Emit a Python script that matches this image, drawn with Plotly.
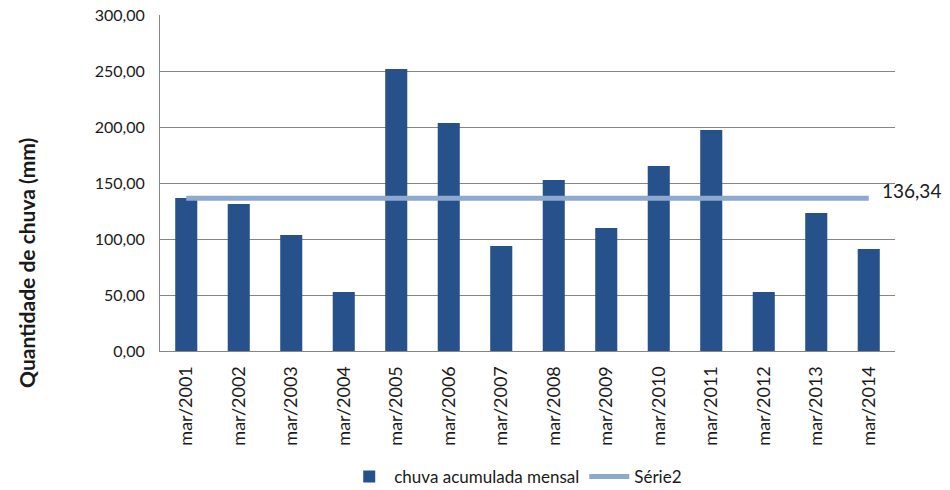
import plotly.graph_objects as go

categories = ["mar/2001", "mar/2002", "mar/2003", "mar/2004", "mar/2005", "mar/2006", "mar/2007",
              "mar/2008", "mar/2009", "mar/2010", "mar/2011", "mar/2012", "mar/2013", "mar/2014"]
chuva = [136.6, 131.3, 103.6, 52.7, 251.8, 203.6, 93.8, 152.7, 109.8, 165.2, 197.3, 52.7, 123.2, 91.1]
media_valor = 136.34
media = [media_valor] * len(categories)
media_rotulo = "136,34"
tick_vals = [0, 50, 100, 150, 200, 250, 300]
tick_text = ["0,00", "50,00", "100,00", "150,00", "200,00", "250,00", "300,00"]
titulo_y = "Quantidade de chuva (mm)"

FONT = "Lato, Open Sans, sans-serif"

fig = go.Figure()
fig.add_trace(go.Bar(
    x=categories, y=chuva, name="chuva acumulada mensal",
    marker=dict(color="#26518A", line=dict(width=0)),
))
fig.add_trace(go.Scatter(
    x=categories, y=media, name="Série2", mode="lines",
    line=dict(color="#8EA9D0", width=5),
))
fig.add_annotation(
    x=categories[-1], y=media_valor, text=media_rotulo, showarrow=False,
    xanchor="left", yanchor="middle", xshift=11, yshift=8,
    font=dict(size=19, color="#1a1a1a", family=FONT),
)
fig.add_annotation(
    xref="paper", yref="paper", x=-0.181, y=0.262, text="<b>" + titulo_y + "</b>",
    showarrow=False, textangle=-90, xanchor="center", yanchor="middle",
    font=dict(size=21, color="#1a1a1a", family=FONT),
)

fig.update_layout(
    width=950, height=490,
    margin=dict(l=160, r=55, t=15, b=139),
    plot_bgcolor="white", paper_bgcolor="white",
    bargap=0.58,
    font=dict(family=FONT, size=16, color="#1a1a1a"),
    showlegend=True,
    legend=dict(orientation="h", x=0.484, xanchor="center", xref="paper",
                yref="container", y=13 / 490, yanchor="middle",
                font=dict(size=17), traceorder="normal", itemwidth=40),
    xaxis=dict(
        tickangle=-90, showgrid=False, showline=True, linecolor="#868686", linewidth=1,
        tickfont=dict(size=18), ticks="outside", ticklen=7, tickcolor="rgba(0,0,0,0)",
        range=[-0.5, len(categories) - 0.5], automargin=False,
    ),
    yaxis=dict(
        range=[0, 300], tickvals=tick_vals, ticktext=tick_text,
        showgrid=True, gridcolor="#868686", gridwidth=1,
        showline=True, linecolor="#868686", linewidth=1,
        tickfont=dict(size=16), ticks="outside", ticklen=11, tickcolor="rgba(0,0,0,0)",
        zeroline=False, automargin=False,
    ),
)

fig.write_html("out.html", config={"displayModeBar": False},
               post_script="document.body.style.margin='0';")
